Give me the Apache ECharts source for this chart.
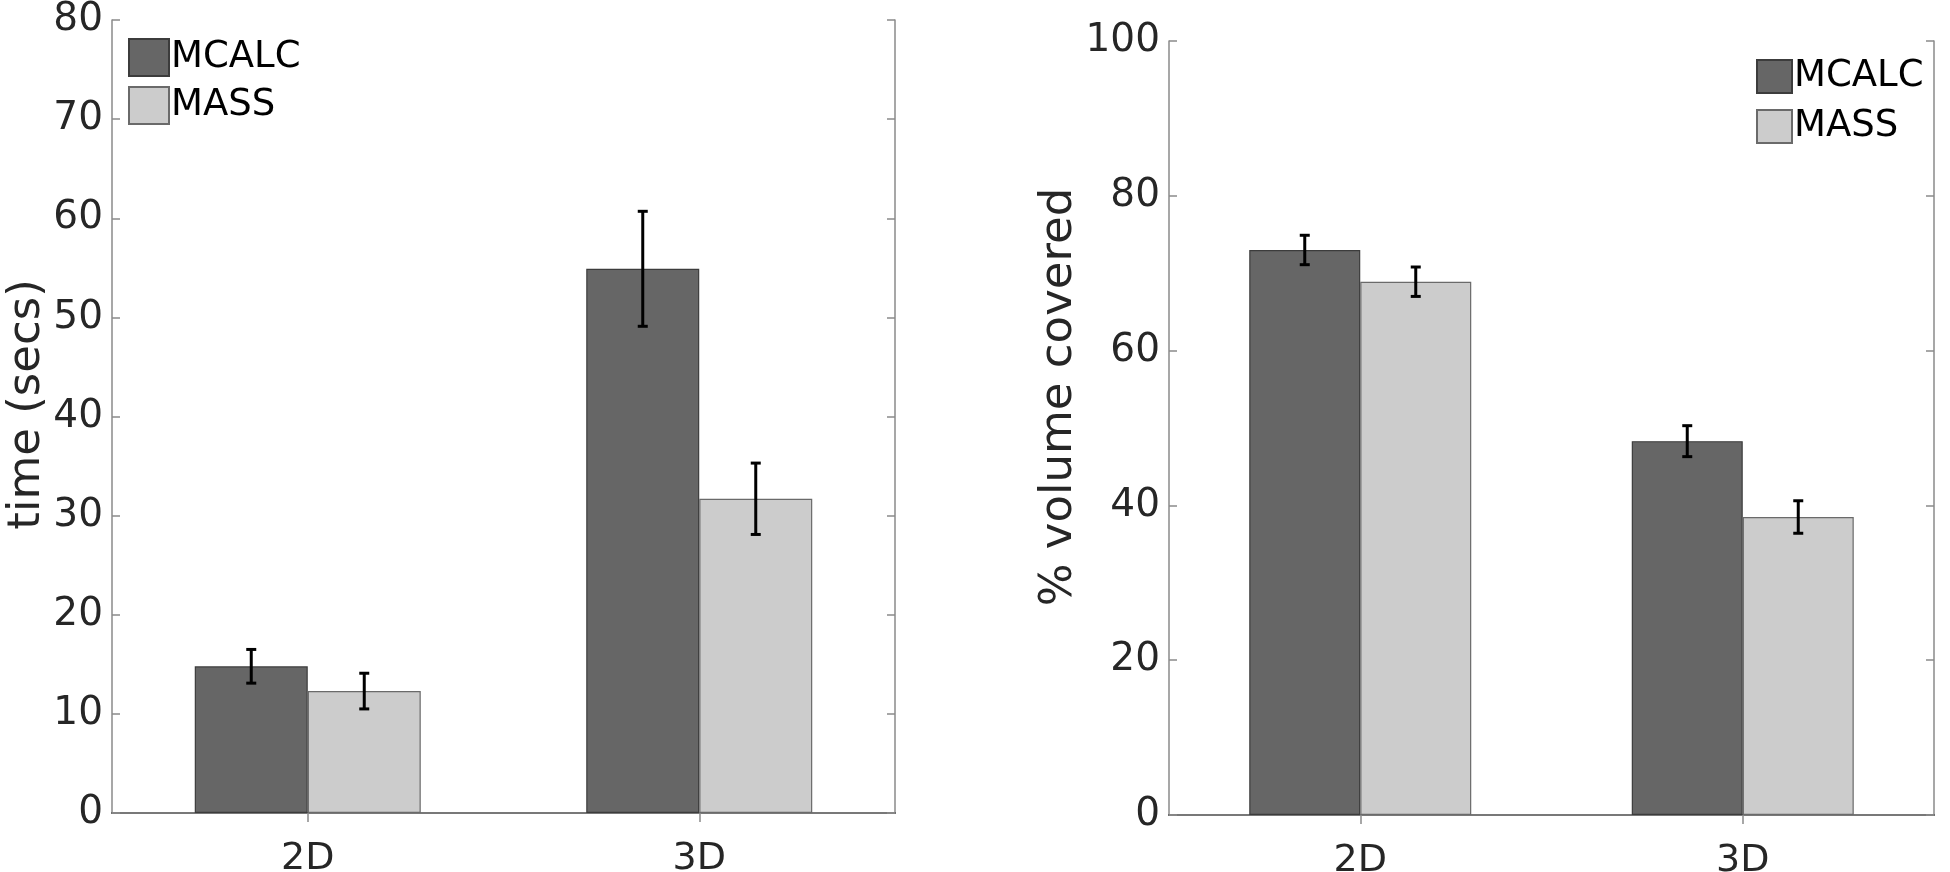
<!DOCTYPE html>
<html>
<head>
<meta charset="utf-8">
<script src="https://cdn.jsdelivr.net/npm/echarts@6/dist/echarts.min.js"></script>
<style>
  html, body { margin: 0; padding: 0; background: #fff; }
  #chart { width: 1950px; height: 872px; }
</style>
</head>
<body>
<div id="chart"></div>
<script>
// ---- data ----
const categories = ['2D', '3D'];
const seriesNames = ['MCALC', 'MASS'];
const timeMCALC = [14.8, 54.9];
const timeMASS = [12.3, 31.7];
const timeErrMCALC = [1.7, 5.8];
const timeErrMASS = [1.8, 3.6];
const volMCALC = [73.0, 48.3];
const volMASS = [68.9, 38.5];
const volErrMCALC = [1.9, 2.0];
const volErrMASS = [1.9, 2.1];
const timeTicks = { min: 0, max: 80, interval: 10 };
const volTicks = { min: 0, max: 100, interval: 20 };

// ---- style ----
const FONT = 'DejaVu Sans';
const colMCALC = '#666666';
const colMASS = '#cccccc';
const barW = [113, 111];

function errData(vals, errs) {
  return vals.map((v, i) => [i, v - errs[i], v + errs[i]]);
}

function errSeries(vals, errs, xi, yi, offset) {
  return {
    type: 'custom',
    xAxisIndex: xi,
    yAxisIndex: yi,
    z: 10,
    silent: true,
    data: errData(vals, errs),
    renderItem: function (params, api) {
      const lo = api.coord([api.value(0), api.value(1)]);
      const hi = api.coord([api.value(0), api.value(2)]);
      const x = lo[0] + offset;
      const cap = 5;
      const st = { stroke: '#000', lineWidth: 3 };
      return {
        type: 'group',
        children: [
          { type: 'line', shape: { x1: x, y1: lo[1], x2: x, y2: hi[1] }, style: st },
          { type: 'line', shape: { x1: x - cap, y1: lo[1], x2: x + cap, y2: lo[1] }, style: st },
          { type: 'line', shape: { x1: x - cap, y1: hi[1], x2: x + cap, y2: hi[1] }, style: st }
        ]
      };
    }
  };
}

function xAxes(gridIndex) {
  return [
    {
      type: 'category', gridIndex: gridIndex, data: categories, position: 'bottom',
      axisLine: { show: true, lineStyle: { color: '#404040', width: 2 } },
      axisTick: { show: false },
      axisLabel: { fontFamily: FONT, fontSize: 38, color: '#262626', margin: 27 }
    },
    {
      type: 'category', gridIndex: gridIndex, data: categories, position: 'top',
      axisLine: { show: true, lineStyle: { color: '#8a8a8a', width: 1.5 } },
      axisTick: { show: true, inside: true, alignWithLabel: true, length: 9, lineStyle: { color: '#8a8a8a', width: 1.5 } },
      axisLabel: { show: false }
    }
  ];
}

function yAxes(gridIndex, ticks, name, nameGap, shiftUp) {
  return [
    {
      type: 'value', gridIndex: gridIndex, position: 'left',
      min: ticks.min, max: ticks.max, interval: ticks.interval,
      name: name, nameLocation: 'middle', nameGap: nameGap,
      nameTextStyle: { fontFamily: FONT, fontSize: 45, color: '#262626', padding: [0, 0, 0, shiftUp * 2] },
      axisLine: { show: true, lineStyle: { color: '#8a8a8a', width: 1.5 } },
      axisTick: { show: true, inside: true, length: 8, lineStyle: { color: '#8a8a8a', width: 1.5 } },
      axisLabel: { fontFamily: FONT, fontSize: 39, color: '#262626', margin: 9 },
      splitLine: { show: false }
    },
    {
      type: 'value', gridIndex: gridIndex, position: 'right',
      min: ticks.min, max: ticks.max, interval: ticks.interval,
      axisLine: { show: true, lineStyle: { color: '#8a8a8a', width: 1.5 } },
      axisTick: { show: true, inside: true, length: 8, lineStyle: { color: '#8a8a8a', width: 1.5 } },
      axisLabel: { show: false },
      splitLine: { show: false }
    }
  ];
}

function barSeries(name, vals, color, border, xi, yi, w) {
  return {
    name: name, type: 'bar', xAxisIndex: xi, yAxisIndex: yi,
    data: vals, barWidth: w, barGap: '0%',
    itemStyle: { color: color, borderColor: border, borderWidth: 1.2 },
    emphasis: { disabled: true }
  };
}

const chart = echarts.init(document.getElementById('chart'), null, { renderer: 'canvas' });
chart.setOption({
  animation: false,
  backgroundColor: '#ffffff',
  grid: [
    { left: 112, top: 20, width: 783, height: 793, outerBoundsMode: 'none', containLabel: false },
    { left: 1169, top: 41, width: 765, height: 774, outerBoundsMode: 'none', containLabel: false }
  ],
  legend: [
    {
      data: seriesNames, orient: 'vertical', left: 128, top: 38, padding: 0,
      itemWidth: 40, itemHeight: 37, itemGap: 9, icon: 'rect',
      textStyle: { fontFamily: FONT, fontSize: 37, color: '#000', padding: [0, 0, 0, -3] },
      selectedMode: false
    },
    {
      data: seriesNames, orient: 'vertical', left: 1756, top: 58, padding: 0,
      itemWidth: 35, itemHeight: 33, itemGap: 13, icon: 'rect',
      textStyle: { fontFamily: FONT, fontSize: 37, color: '#000', padding: [0, 0, 0, -3] },
      selectedMode: false
    }
  ],
  xAxis: [].concat(xAxes(0), xAxes(1)),
  yAxis: [].concat(
    yAxes(0, timeTicks, 'time (secs)', 60, 12),
    yAxes(1, volTicks, '% volume covered', 85, 31)
  ),
  series: [
    barSeries('MCALC', timeMCALC, colMCALC, '#3c3c3c', 0, 0, barW[0]),
    barSeries('MASS', timeMASS, colMASS, '#6a6a6a', 0, 0, barW[0]),
    errSeries(timeMCALC, timeErrMCALC, 0, 0, -barW[0] / 2),
    errSeries(timeMASS, timeErrMASS, 0, 0, barW[0] / 2),
    barSeries('MCALC', volMCALC, colMCALC, '#3c3c3c', 2, 2, barW[1]),
    barSeries('MASS', volMASS, colMASS, '#6a6a6a', 2, 2, barW[1]),
    errSeries(volMCALC, volErrMCALC, 2, 2, -barW[1] / 2),
    errSeries(volMASS, volErrMASS, 2, 2, barW[1] / 2)
  ]
});
</script>
</body>
</html>
